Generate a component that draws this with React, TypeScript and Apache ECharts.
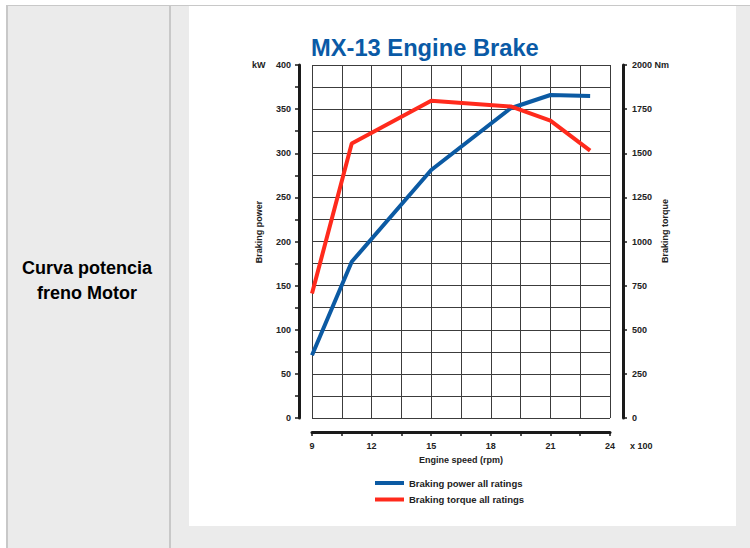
import React, { useEffect, useRef } from "react";
import * as echarts from "echarts";

// Engine speed (x 100 rpm)
const rpm = [9, 11, 15, 19, 21, 23];
// Braking power all ratings (kW)
const powerKw = [71, 177, 281, 351, 366, 365];
// Braking torque all ratings (Nm)
const torqueNm = [705, 1555, 1797, 1765, 1685, 1515];

const seriesNames = ["Braking power all ratings", "Braking torque all ratings"];
const chartTitle = "MX-13 Engine Brake";
const rowLabel = ["Curva potencia", "freno Motor"];

const FONT = "'Liberation Sans', Arial, Helvetica, sans-serif";
const LABEL_COLOR = "#222";
const BLUE = "#0b5aa3";
const RED = "#ff2a1c";
const AXIS_COLOR = "#1a1a1a";
const GRID_COLOR = "#3c3c3c";

export default function App() {
  const ref = useRef<HTMLDivElement>(null);

  useEffect(() => {
    if (!ref.current) return;
    const chart = echarts.init(ref.current, undefined, { renderer: "svg" });
    const labelStyle = {
      color: LABEL_COLOR,
      fontSize: 9,
      fontWeight: "bold" as const,
      fontFamily: FONT,
    };
    chart.setOption({
      animation: false,
      backgroundColor: "transparent",
      textStyle: { fontFamily: FONT },
      grid: { left: 312, top: 65, right: 140, bottom: 130, containLabel: false },
      legend: {
        left: 375,
        top: 478,
        padding: 0,
        orient: "vertical",
        icon: "rect",
        itemWidth: 29,
        itemHeight: 4,
        itemGap: 6.5,
        textStyle: { ...labelStyle, fontSize: 9.5 },
        data: seriesNames,
      },
      xAxis: {
        type: "value",
        min: 9,
        max: 24,
        interval: 1.5,
        offset: 14,
        axisLine: { show: true, onZero: false, lineStyle: { color: AXIS_COLOR, width: 3 } },
        axisTick: { show: true, length: 4, lineStyle: { color: AXIS_COLOR, width: 1.5 } },
        axisLabel: {
          ...labelStyle,
          margin: 9,
          formatter: (v: number) => (Math.abs(v % 3) < 1e-6 ? String(v) : ""),
        },
        splitLine: { show: true, lineStyle: { color: GRID_COLOR, width: 1 } },
        name: "Engine speed (rpm)",
        nameLocation: "middle",
        nameGap: 23,
        nameTextStyle: { ...labelStyle },
      },
      yAxis: [
        {
          type: "value",
          min: 0,
          max: 400,
          interval: 25,
          position: "left",
          offset: 13,
          axisLine: { show: true, lineStyle: { color: AXIS_COLOR, width: 3 } },
          axisTick: { show: true, length: 4, lineStyle: { color: AXIS_COLOR, width: 1.5 } },
          axisLabel: {
            ...labelStyle,
            margin: 8,
            formatter: (v: number) => (v % 50 === 0 ? String(v) : ""),
          },
          splitLine: { show: true, lineStyle: { color: GRID_COLOR, width: 1 } },
        },
        {
          type: "value",
          min: 0,
          max: 2000,
          interval: 250,
          position: "right",
          offset: 13,
          axisLine: { show: true, lineStyle: { color: AXIS_COLOR, width: 3 } },
          axisTick: { show: true, length: 4, lineStyle: { color: AXIS_COLOR, width: 1.5 } },
          axisLabel: {
            ...labelStyle,
            margin: 9,
            formatter: (v: number) => (v === 2000 ? "2000 Nm" : String(v)),
          },
          splitLine: { show: false },
        },
      ],
      series: [
        {
          name: seriesNames[0],
          type: "line",
          yAxisIndex: 0,
          symbol: "none",
          color: BLUE,
          lineStyle: { color: BLUE, width: 4 },
          data: rpm.map((x, i) => [x, powerKw[i]]),
        },
        {
          name: seriesNames[1],
          type: "line",
          yAxisIndex: 1,
          symbol: "none",
          color: RED,
          lineStyle: { color: RED, width: 4 },
          data: rpm.map((x, i) => [x, torqueNm[i]]),
        },
      ],
      graphic: [
        {
          type: "text",
          x: 311,
          y: 48,
          style: {
            text: chartTitle,
            fill: "#0a5aa6",
            font: `bold 23.7px ${FONT}`,
            align: "left",
            verticalAlign: "middle",
          },
        },
        {
          type: "text",
          x: 252,
          y: 65,
          style: {
            text: "kW",
            fill: LABEL_COLOR,
            font: `bold 9px ${FONT}`,
            align: "left",
            verticalAlign: "middle",
          },
        },
        {
          type: "text",
          x: 630,
          y: 446,
          style: {
            text: "x 100",
            fill: LABEL_COLOR,
            font: `bold 9px ${FONT}`,
            align: "left",
            verticalAlign: "middle",
          },
        },
        {
          type: "text",
          x: 259,
          y: 232,
          rotation: Math.PI / 2,
          style: {
            text: "Braking power",
            fill: LABEL_COLOR,
            font: `bold 9px ${FONT}`,
            align: "center",
            verticalAlign: "middle",
          },
        },
        {
          type: "text",
          x: 665,
          y: 231,
          rotation: Math.PI / 2,
          style: {
            text: "Braking torque",
            fill: LABEL_COLOR,
            font: `bold 9px ${FONT}`,
            align: "center",
            verticalAlign: "middle",
          },
        },
        {
          type: "text",
          x: 87,
          y: 268,
          style: {
            text: rowLabel[0],
            fill: "#000",
            font: `bold 18px ${FONT}`,
            align: "center",
            verticalAlign: "middle",
          },
        },
        {
          type: "text",
          x: 87,
          y: 293,
          style: {
            text: rowLabel[1],
            fill: "#000",
            font: `bold 18px ${FONT}`,
            align: "center",
            verticalAlign: "middle",
          },
        },
      ],
    });
    return () => chart.dispose();
  }, []);

  const abs = (s: React.CSSProperties): React.CSSProperties => ({ position: "absolute", ...s });

  return (
    <div style={{ position: "fixed", left: 0, top: 0, width: 750, height: 548, background: "#fff", overflow: "hidden" }}>
      <div style={abs({ left: 6, top: 5, width: 744, height: 1.5, background: "#c8c8c8" })} />
      <div style={abs({ left: 6, top: 6, width: 2, height: 542, background: "#c8c8c8" })} />
      <div style={abs({ left: 8, top: 6, width: 161, height: 542, background: "#ebebeb" })} />
      <div style={abs({ left: 169, top: 6, width: 2, height: 542, background: "#c8c8c8" })} />
      <div style={abs({ left: 171, top: 6, width: 579, height: 542, background: "#ebebeb" })} />
      <div style={abs({ left: 189, top: 6, width: 547, height: 520, background: "#fff" })} />
      <div ref={ref} style={abs({ left: 0, top: 0, width: 750, height: 548 })} />
    </div>
  );
}
